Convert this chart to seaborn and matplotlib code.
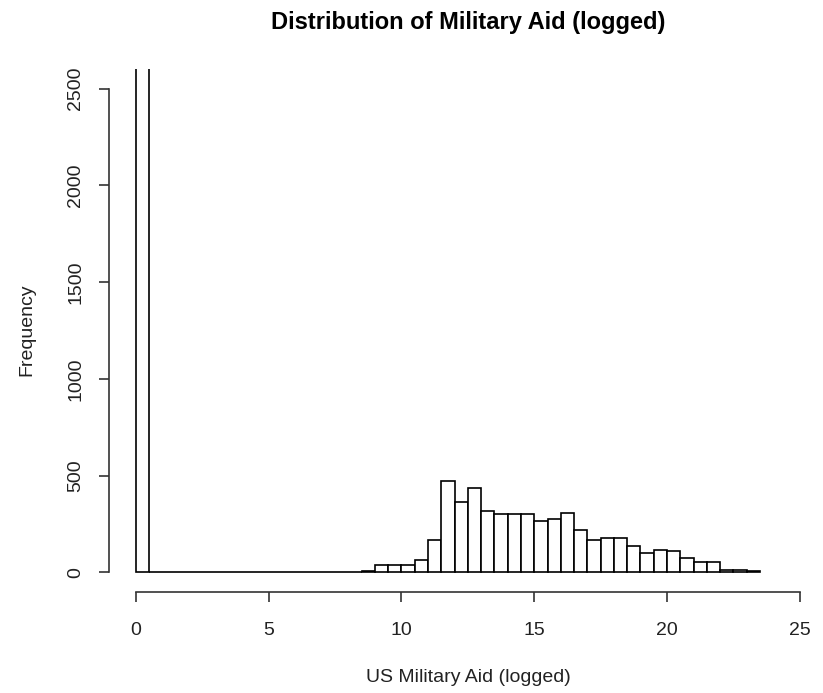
import numpy as np
import pandas as pd
import matplotlib
matplotlib.use("Agg")
import matplotlib.pyplot as plt
import seaborn as sns

# Histogram of logged US military aid, 0.5-wide bins from 0 to 23.5
bin_left = [i * 0.5 for i in range(47)]
counts = [5200] + [0] * 16 + [
    7, 36, 36, 36, 65, 167, 473, 365, 434, 318,
    301, 301, 301, 267, 275, 307, 217, 167, 179, 179,
    134, 101, 117, 110, 75, 55, 55, 13, 13, 6,
]
x_ticks = [0, 5, 10, 15, 20, 25]
y_ticks = [0, 500, 1000, 1500, 2000, 2500]

title = "Distribution of Military Aid (logged)"
x_label = "US Military Aid (logged)"
y_label = "Frequency"

sns.set_style("white")
plt.rcParams["font.family"] = ["Liberation Sans", "DejaVu Sans"]

df = pd.DataFrame({"aid": np.array(bin_left) + 0.25, "n": counts})
edges = [i * 0.5 for i in range(48)]

W, H = 823, 693
fig = plt.figure(figsize=(W / 100, H / 100), dpi=100)
left, right, top, bottom = 109.4, 826.3, 69.4, 591.7
ax = fig.add_axes([left / W, 1 - bottom / H, (right - left) / W, (bottom - top) / H])

sns.histplot(data=df, x="aid", weights="n", bins=edges, ax=ax,
             color="white", edgecolor="black", linewidth=1.2, alpha=1)

ax.set_xlim(-1, 26)
ax.set_ylim(-100, 2600)
for s in ["top", "right"]:
    ax.spines[s].set_visible(False)
for s in ["left", "bottom"]:
    ax.spines[s].set_color("#333333")
    ax.spines[s].set_linewidth(1.2)
ax.spines["bottom"].set_bounds(0, 25)
ax.spines["left"].set_bounds(0, 2500)

ax.set_xticks(x_ticks)
ax.set_yticks(y_ticks)
ax.set_xticklabels([str(t) for t in x_ticks], fontsize=14)
ax.set_yticklabels([str(t) for t in y_ticks], fontsize=14, rotation=90, va="center")
ax.tick_params(axis="both", direction="out", length=7.5, width=1.2, color="#333333",
               labelcolor="#222222", bottom=True, left=True)
ax.tick_params(axis="x", pad=14)
ax.tick_params(axis="y", pad=10.5)
ax.grid(False)

ax.set_xlabel("")
ax.set_ylabel("")
fig.text(467.9 / W, 1 - 678 / H, x_label, ha="center", va="center", fontsize=14, color="#222222")
fig.text(27 / W, 1 - 330 / H, y_label, ha="center", va="center", rotation=90,
         fontsize=14, color="#222222")
fig.text(468.5 / W, 1 - 22 / H, title, ha="center", va="center", fontsize=17,
         fontweight="bold", color="black")

fig.savefig("out.png", dpi=100, facecolor="white")
